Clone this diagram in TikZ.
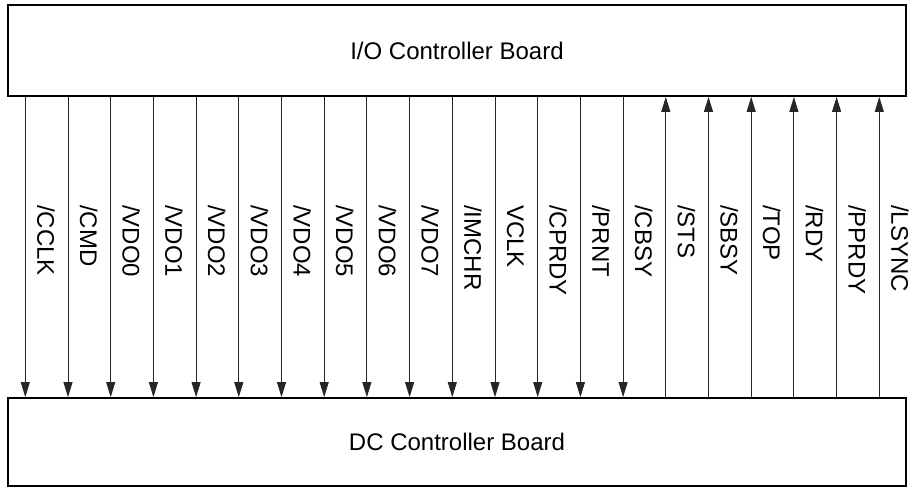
\documentclass[tikz,border=0pt]{standalone}
\usepackage{fontspec}
\setmainfont{Liberation Sans}
\usetikzlibrary{arrows.meta}
\begin{document}
\begin{tikzpicture}[x=1pt,y=-1pt,
  board/.style={draw=black,line width=1.8pt,inner sep=0pt,font=\fontsize{24}{28}\selectfont},
  siglabel/.style={rotate=-90,anchor=base west,inner sep=0pt,font=\fontsize{24}{28}\selectfont},
  sigline/.style={line width=0.9pt,draw=black!85},
  tipdown/.style={sigline,-{Triangle[length=15pt,width=9pt]}},
  tipup/.style={sigline,{Triangle[length=15pt,width=9pt]}-}]
\useasboundingbox (0,0) rectangle (913,488);
\node[board,minimum width=898pt,minimum height=91pt] (top) at (457,50.5) {I/O Controller Board};
\node[board,minimum width=898pt,minimum height=88pt] (bot) at (457,442) {DC Controller Board};
\foreach \lab [count=\i from 0] in {/CCLK,/CMD,/VDO0,/VDO1,/VDO2,/VDO3,/VDO4,/VDO5,/VDO6,/VDO7,/IMCHR,VCLK,/CPRDY,/PRNT,/CBSY,/STS,/SBSY,/TOP,/RDY,/PPRDY,/LSYNC}{
  \pgfmathsetmacro\xx{25.3+42.7*\i}
  \coordinate (c\i) at (\xx,250);
  \ifnum\i<15
    \draw[tipdown] (c\i |- top.south) -- (c\i |- bot.north);
  \else
    \draw[tipup] (c\i |- top.south) -- (c\i |- bot.north);
  \fi
  \node[siglabel] (l\i) at (\xx+12,205) {\lab};
}
\end{tikzpicture}
\end{document}
